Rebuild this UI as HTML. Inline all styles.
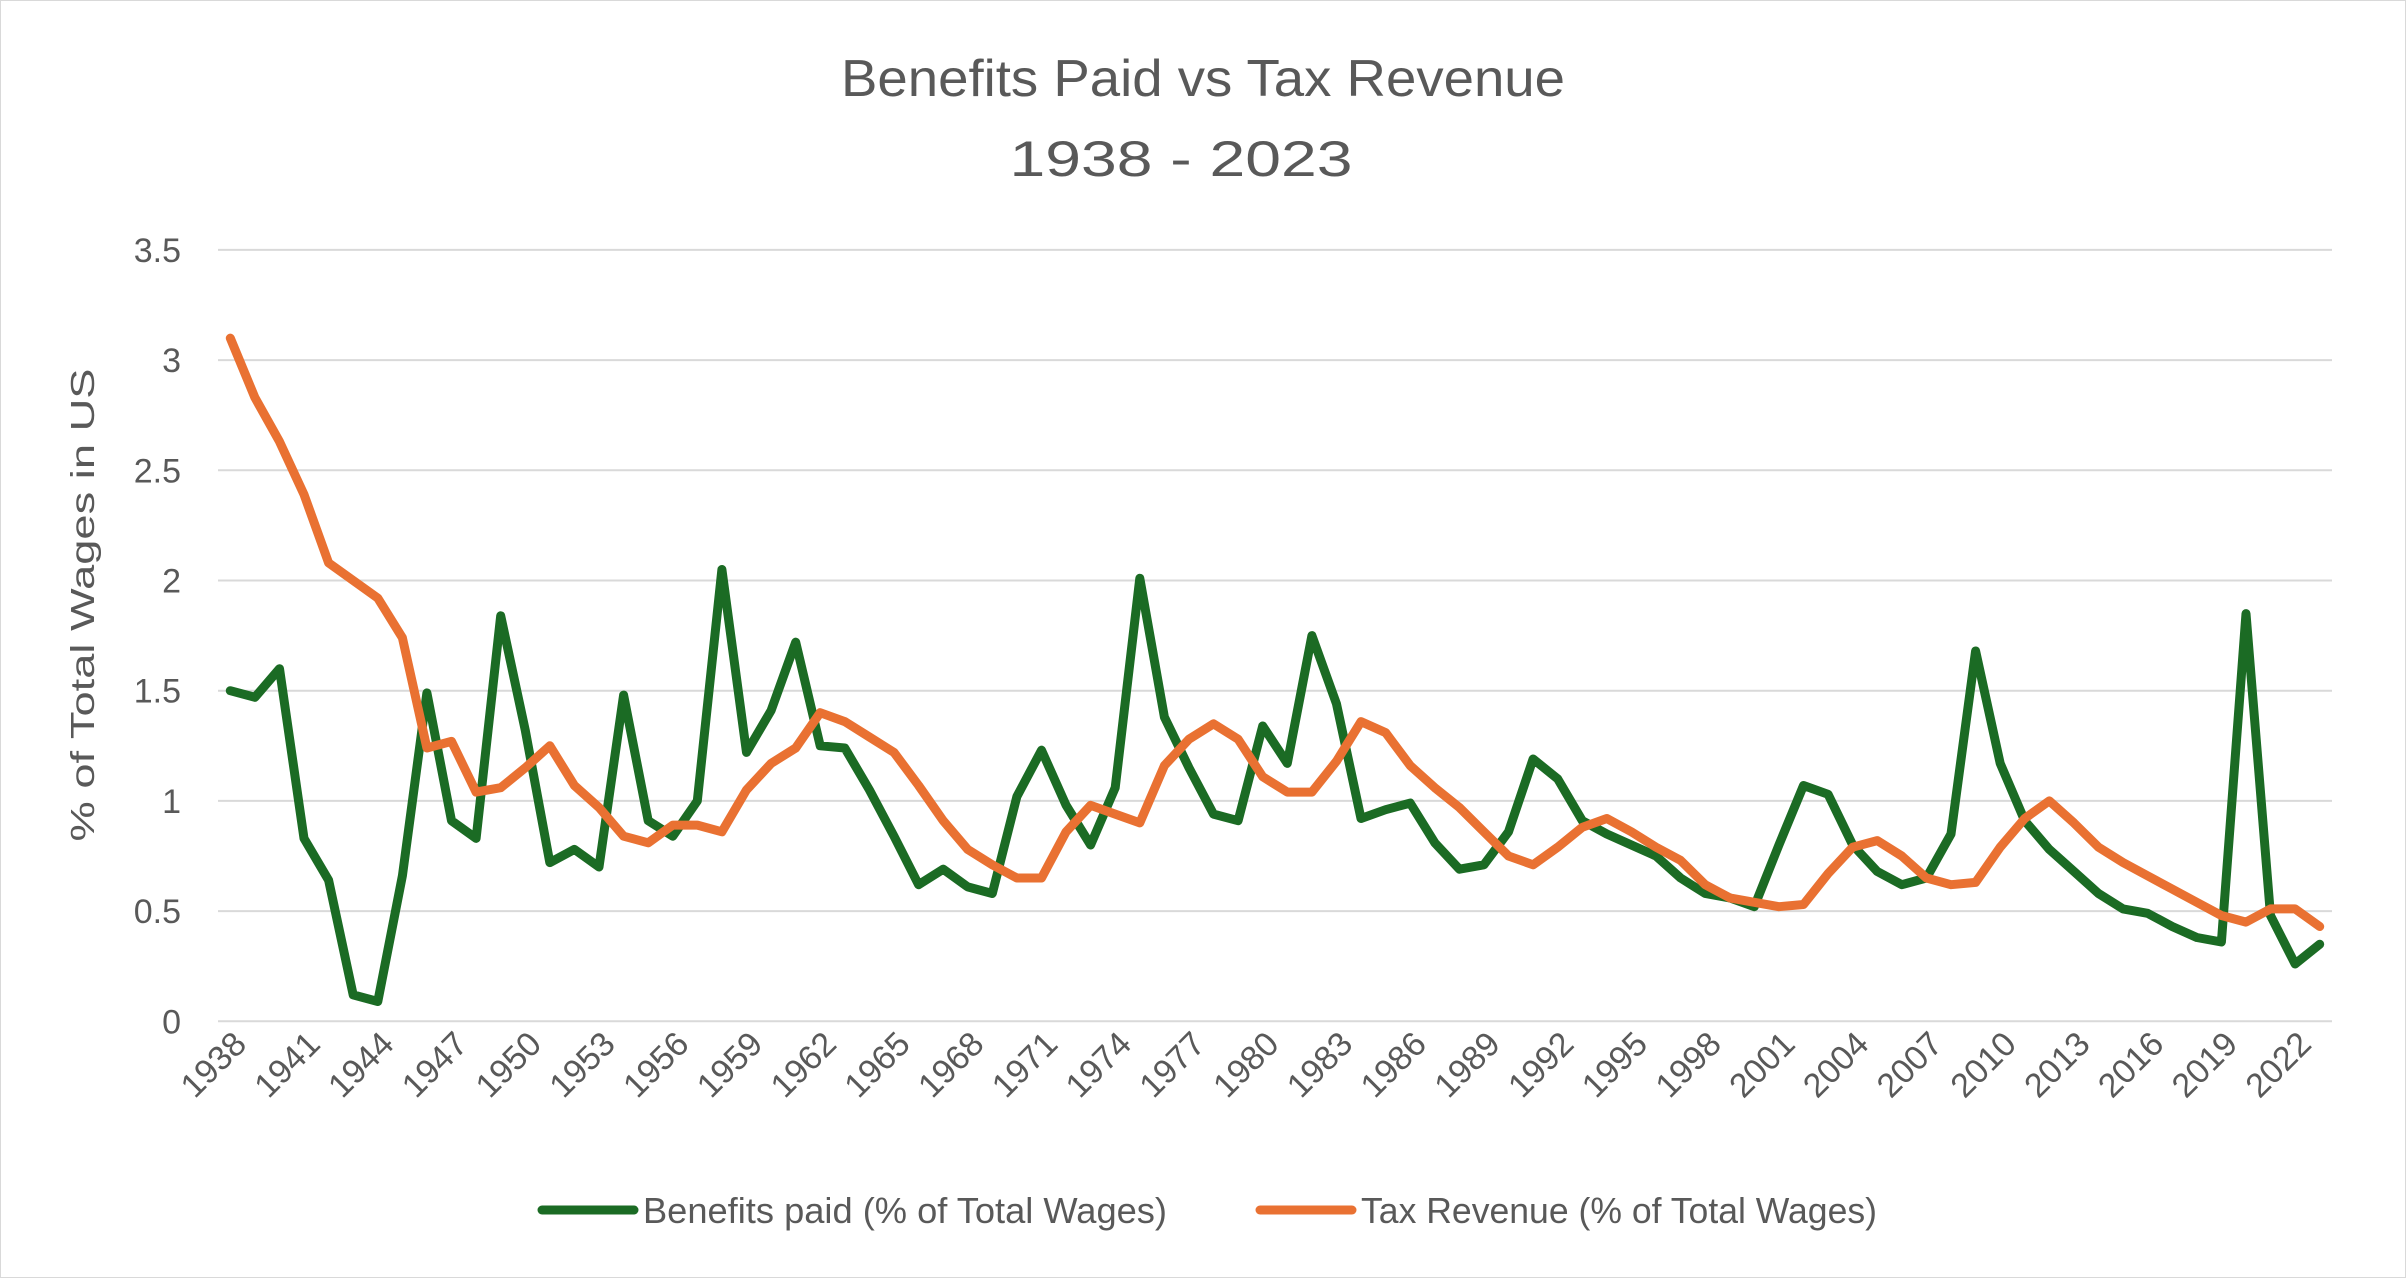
<!DOCTYPE html>
<html><head><meta charset="utf-8"><style>
html,body{margin:0;padding:0;background:#fff}
svg{display:block}
text{font-family:"Liberation Sans",sans-serif;fill:#595959}
</style></head><body>
<svg id="chart" width="2406" height="1278" viewBox="0 0 2406 1278" xmlns="http://www.w3.org/2000/svg">
<rect x="0.5" y="0.5" width="2405" height="1277" fill="#fff" stroke="#d9d9d9"/>
<text x="1203" y="96" font-size="52" text-anchor="middle" textLength="724" lengthAdjust="spacingAndGlyphs">Benefits Paid vs Tax Revenue</text>
<text x="1181" y="176" font-size="50" text-anchor="middle" textLength="343" lengthAdjust="spacingAndGlyphs">1938 - 2023</text>
<text transform="translate(94,605) rotate(-90)" font-size="33" text-anchor="middle" textLength="473" lengthAdjust="spacingAndGlyphs">% of Total Wages in US</text>
<g id="grid"></g>
<g id="ylabels"></g>
<g id="xlabels"></g>
<g id="series"></g>
<g>
<line x1="542" y1="1210" x2="634" y2="1210" stroke="#1B6B24" stroke-width="9" stroke-linecap="round"/>
<text x="643" y="1223" font-size="36" textLength="524" lengthAdjust="spacingAndGlyphs">Benefits paid (% of Total Wages)</text>
<line x1="1260" y1="1210" x2="1352" y2="1210" stroke="#E97132" stroke-width="9" stroke-linecap="round"/>
<text x="1361" y="1223" font-size="36" textLength="516" lengthAdjust="spacingAndGlyphs">Tax Revenue (% of Total Wages)</text>
</g>
</svg>
<script>
const years = [];
for (let y = 1938; y <= 2023; y++) years.push(y);
const benefits = [1.50,1.47,1.60,0.83,0.64,0.12,0.09,0.66,1.49,0.91,0.83,1.84,1.32,0.72,0.78,0.70,1.48,0.91,0.84,1.00,2.05,1.22,
1.41,1.72,1.25,1.24,1.05,0.84,0.62,0.69,0.61,0.58,1.02,1.23,0.98,0.80,1.06,2.01,1.38,1.15,0.94,0.91,1.34,1.17,
1.75,1.44,0.92,0.96,0.99,0.81,0.69,0.71,0.86,1.19,1.10,0.91,0.85,0.80,0.75,0.65,0.58,0.56,0.52,0.80,1.07,1.03,
0.80,0.68,0.62,0.65,0.85,1.68,1.17,0.91,0.78,0.68,0.58,0.51,0.49,0.43,0.38,0.36,1.85,0.48,0.26,0.35];
const taxRevenue = [3.10,2.83,2.63,2.39,2.08,2.00,1.92,1.74,1.24,1.27,1.04,1.06,1.15,1.25,1.07,0.97,0.84,0.81,0.89,0.89,0.86,1.05,
1.17,1.24,1.40,1.36,1.29,1.22,1.07,0.91,0.78,0.71,0.65,0.65,0.86,0.98,0.94,0.90,1.16,1.28,1.35,1.28,1.11,1.04,
1.04,1.18,1.36,1.31,1.16,1.06,0.97,0.86,0.75,0.71,0.79,0.88,0.92,0.86,0.79,0.73,0.62,0.56,0.54,0.52,0.53,0.67,
0.79,0.82,0.75,0.65,0.62,0.63,0.79,0.92,1.00,0.90,0.79,0.72,0.66,0.60,0.54,0.48,0.45,0.51,0.51,0.43];
const yTicks = [0,0.5,1,1.5,2,2.5,3,3.5];
const yTickLabels = ["0","0.5","1","1.5","2","2.5","3","3.5"];

const NS = "http://www.w3.org/2000/svg";
const plotL = 218, plotR = 2332, yTop = 249.9, yBot = 1021.3, yMax = 3.5;
const catW = (plotR - plotL) / years.length;
function xPos(i){ return plotL + catW * (i + 0.5); }
function yPos(v){ return yBot - (v / yMax) * (yBot - yTop); }
function mk(tag, attrs){ const e = document.createElementNS(NS, tag); for (const k in attrs) e.setAttribute(k, attrs[k]); return e; }

const grid = document.getElementById('grid');
const yl = document.getElementById('ylabels');
yTicks.forEach((t, i) => {
  const l = mk('line', {x1: plotL, x2: plotR, y1: yPos(t), y2: yPos(t), stroke: '#d9d9d9', 'stroke-width': 2});
  
  
  grid.appendChild(l);
  const tx = mk('text', {x: 181, y: yPos(t) + 12, 'font-size': 34, 'text-anchor': 'end'});
  tx.textContent = yTickLabels[i];
  
  
  yl.appendChild(tx);
});

const xl = document.getElementById('xlabels');
years.forEach((yr, i) => {
  if (i % 3 !== 0) return;
  const x = xPos(i) + 18, y = 1046;
  const tx = mk('text', {x: x, y: y, 'font-size': 34, 'text-anchor': 'end', transform: `rotate(-45 ${x} ${y})`});
  tx.textContent = String(yr);
  
  
  xl.appendChild(tx);
});

const series = document.getElementById('series');
function drawLine(vals, color, name){
  const pts = vals.map((v, i) => xPos(i).toFixed(1) + ',' + yPos(v).toFixed(1)).join(' ');
  const p = mk('polyline', {points: pts, fill: 'none', stroke: color, 'stroke-width': 9, 'stroke-linejoin': 'round', 'stroke-linecap': 'round'});
  
  
  series.appendChild(p);
}
drawLine(benefits, '#1B6B24', 'benefits-paid-line');
drawLine(taxRevenue, '#E97132', 'tax-revenue-line');
</script>
</body></html>
